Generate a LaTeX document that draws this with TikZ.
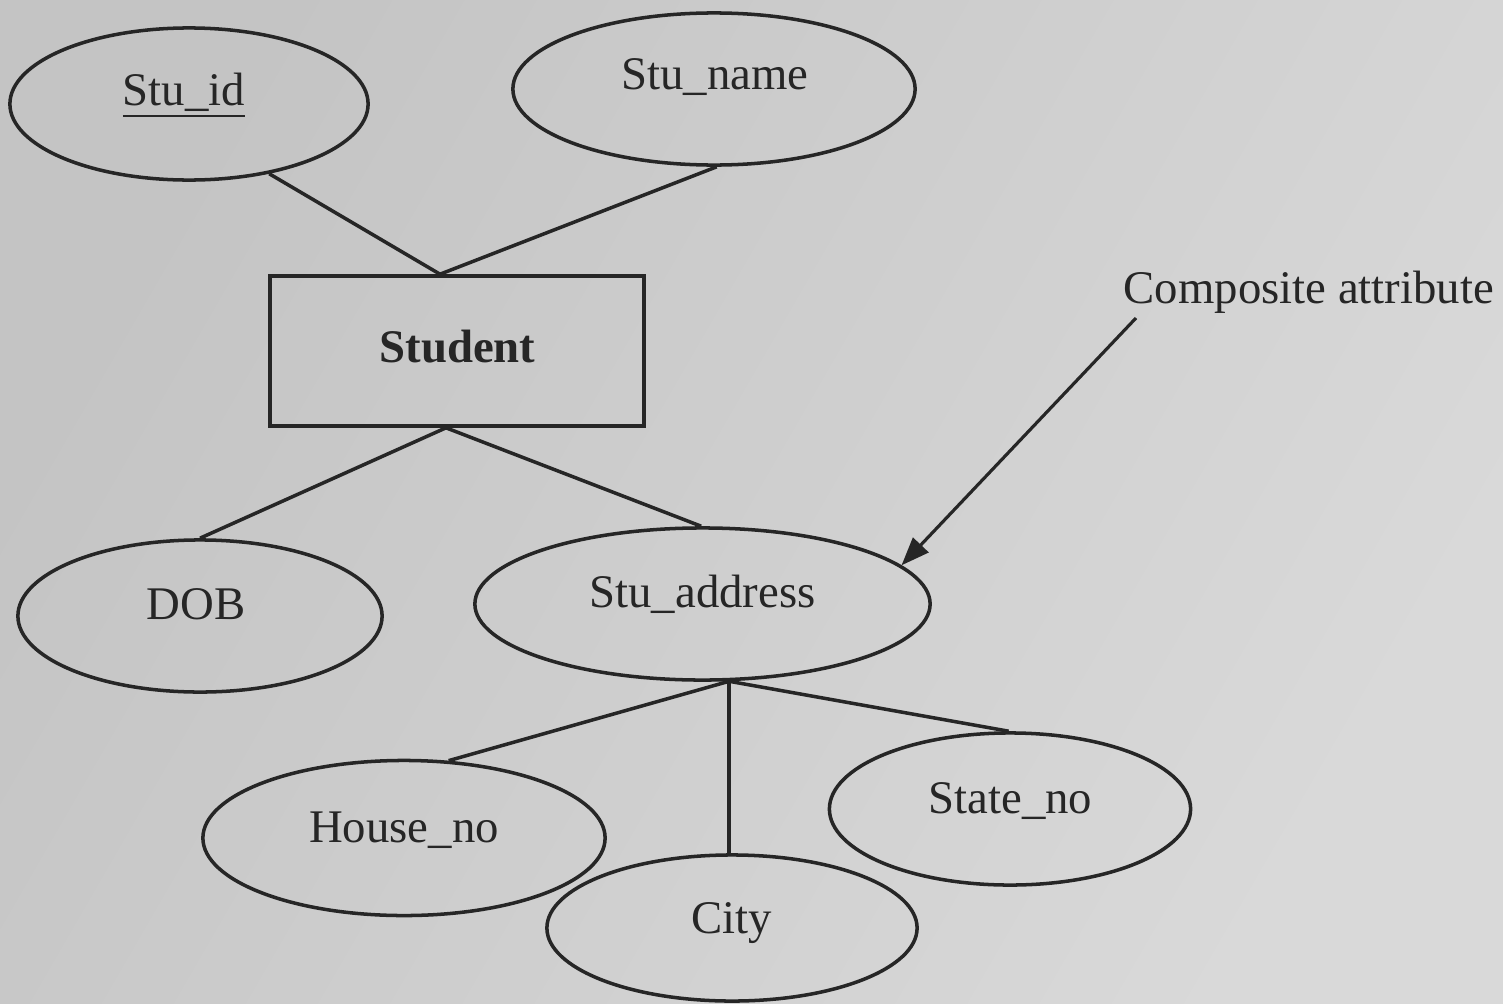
\documentclass[tikz,border=0pt]{standalone}
\usepackage{fontspec}
\setmainfont{Liberation Serif}
\usetikzlibrary{shapes.geometric,arrows.meta,calc}
\definecolor{ink}{HTML}{262626}
\definecolor{paperdark}{HTML}{C4C4C4}
\definecolor{paperlight}{HTML}{D9D9D9}
\begin{document}
\begin{tikzpicture}[x=0.01cm,y=-0.01cm,
  attr/.style={draw=ink, ellipse, line width=1pt, inner sep=0pt},
  entity/.style={draw=ink, rectangle, line width=1pt, inner sep=0pt},
  lbl/.style={text=ink, font=\fontsize{13.3}{16}\selectfont, inner sep=0pt, anchor=base},
  link/.style={draw=ink, line width=1pt}]
\useasboundingbox (0,0) rectangle (1503,1003);
% paper background
\shade[left color=paperdark, right color=paperlight, shading angle=60] (0,0) rectangle (1503,1003);

% entity
\node[entity, minimum width=3.74cm, minimum height=1.50cm] (stud) at (457,351) {};
\node[lbl, font=\fontsize{13.3}{16}\selectfont\bfseries] (tstud) at (457.5,362) {Student};

% attributes
\node[attr, minimum width=3.58cm, minimum height=1.52cm] (sid) at (189,104) {};
\node[lbl] (tsid) at (184,105) {\underline{Stu\_id}};

\node[attr, minimum width=4.02cm, minimum height=1.52cm] (sname) at (714,89) {};
\node[lbl] (tsname) at (715,90) {Stu\_name};

\node[attr, minimum width=3.64cm, minimum height=1.52cm] (dob) at (200,616) {};
\node[lbl] (tdob) at (196,619) {DOB};

\node[attr, minimum width=4.55cm, minimum height=1.52cm] (sadr) at (702.5,604) {};
\node[lbl] (tsadr) at (702.5,607) {Stu\_address};

\node[attr, minimum width=4.02cm, minimum height=1.55cm] (house) at (404,838) {};
\node[lbl] (thouse) at (404,842) {House\_no};

\node[attr, minimum width=3.70cm, minimum height=1.46cm] (city) at (732,928) {};
\node[lbl] (tcity) at (731.5,933) {City};

\node[attr, minimum width=3.61cm, minimum height=1.52cm] (state) at (1010,809) {};
\node[lbl] (tstate) at (1010.5,813) {State\_no};

% annotation
\node[lbl, anchor=base west] (comp) at (1123,303) {Composite attribute};

% connectors
\coordinate (stTop) at ($(stud.north)+(-17,0)$);
\coordinate (stBot) at ($(stud.south)+(-11,0)$);
\draw[link] (sid.-41) -- (stTop);
\draw[link] (sname.-88) -- (stTop);
\draw[link] (stBot) -- (dob.90);
\draw[link] (stBot) -- (sadr.91);

\coordinate (sadrBot) at (sadr.-71);
\draw[link] (sadrBot) -- (house.60);
\draw[link] (sadrBot) -- (sadrBot |- city.north);
\draw[link] (sadrBot) -- (state.91);

\coordinate (arrStart) at ($(comp.base west)+(13,15)$);
\draw[link, line width=0.9pt, -{Triangle[length=8pt,width=6pt]}] (arrStart) -- (sadr.11);
\end{tikzpicture}
\end{document}
